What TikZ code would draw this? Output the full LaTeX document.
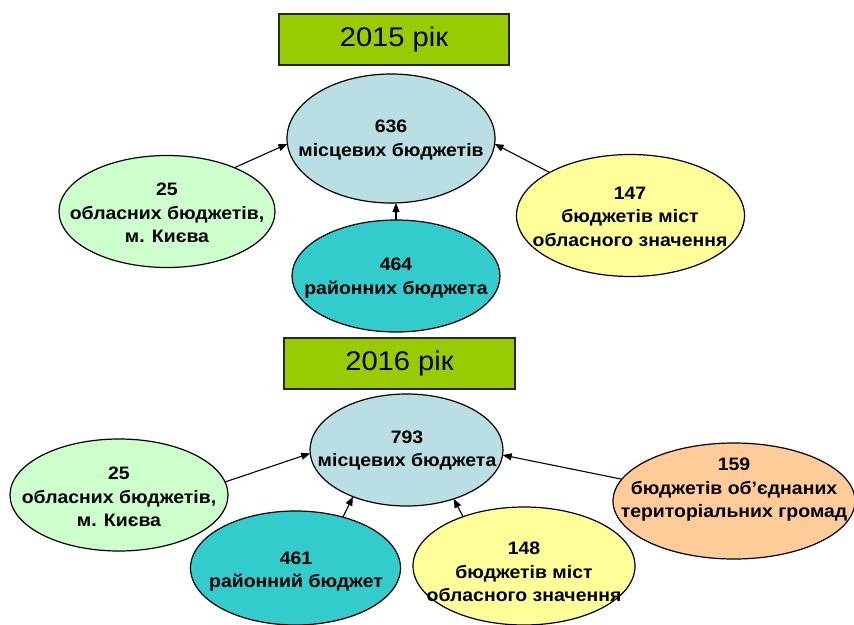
\documentclass[tikz,border=0pt]{standalone}
\usepackage{fontspec}
\setmainfont{Liberation Sans}[FakeStretch=1.08]
\usetikzlibrary{shapes.geometric,arrows.meta}
\definecolor{titlegreen}{RGB}{153,204,0}
\definecolor{centreblue}{RGB}{185,222,228}
\definecolor{palegreen}{RGB}{204,255,204}
\definecolor{paleyellow}{RGB}{255,255,153}
\definecolor{tealfill}{RGB}{51,204,204}
\definecolor{peach}{RGB}{255,204,153}
\begin{document}
\begin{tikzpicture}[x=1pt,y=-1pt,
  ell/.style={ellipse,draw=black,line width=1.2pt,inner sep=0pt,outer sep=0pt},
  txt/.style={align=center,font=\bfseries\fontsize{18}{23.5}\selectfont,inner sep=0pt},
  titlebox/.style={draw=black!85,line width=1.3pt,fill=titlegreen,minimum width=230pt,minimum height=51pt,inner sep=0pt,font=\fontsize{27}{30}\selectfont},
  arr/.style={-{Triangle[length=9pt,width=7pt]},line width=1.1pt}]
\useasboundingbox (0,0) rectangle (854,624);
\fill[white] (0,0) rectangle (854,624);
\clip (0,0) rectangle (854,624);

% 2015
\node[titlebox] (y2015) at (394,39.5) {2015 рік};
\node[ell,fill=centreblue,minimum width=208pt,minimum height=129pt] (a636) at (391,138.5) {};
\node[ell,fill=palegreen,minimum width=216pt,minimum height=112pt] (a25) at (167,211.5) {};
\node[ell,fill=paleyellow,minimum width=228pt,minimum height=122pt] (a147) at (630.5,215.5) {};
\node[ell,fill=tealfill,minimum width=208pt,minimum height=112pt] (a464) at (396,276) {};
\node[txt] (ta636) at (391,140) {636\\місцевих бюджетів};
\node[txt] (ta25) at (167,213) {25\\обласних бюджетів,\\м. Києва};
\node[txt] (ta147) at (630,216.5) {147\\бюджетів міст\\обласного значення};
\node[txt] (ta464) at (396,278) {464\\районних бюджета};
\draw[arr] (a25.33.5) -- (a636.183);
\draw[arr] (a147.152) -- (a636.357);
\draw[arr] (a464.north) -- (a464.north |- a636.south);

% 2016
\node[titlebox,minimum width=231pt] (y2016) at (399.5,363.5) {2016 рік};
\node[ell,fill=centreblue,minimum width=193pt,minimum height=112pt] (b793) at (406.5,450) {};
\node[ell,fill=palegreen,minimum width=218pt,minimum height=112pt] (b25) at (119,495) {};
\node[ell,fill=peach,minimum width=242pt,minimum height=116pt] (b159) at (734,501) {};
\node[ell,fill=tealfill,minimum width=210pt,minimum height=114pt] (b461) at (295.5,568) {};
\node[ell,fill=paleyellow,minimum width=222pt,minimum height=118pt] (b148) at (524,566) {};
\node[txt] (tb793) at (407,450.5) {793\\місцевих бюджета};
\node[txt] (tb25) at (119,497) {25\\обласних бюджетів,\\м. Києва};
\node[txt] (tb159) at (734,490) {159\\бюджетів об’єднаних\\територіальних громад};
\node[txt] (tb461) at (296,571.5) {461\\районний бюджет};
\node[txt] (tb148) at (524,572) {148\\бюджетів міст\\обласного значення};
\draw[arr] (b25.7.5) -- (b793.182);
\draw[arr] (b159.169.4) -- (b793.357);
\draw[arr] (b461.47) -- (b793.221.6);
\draw[arr] (b148.141.5) -- (b793.314.3);
\end{tikzpicture}
\end{document}
